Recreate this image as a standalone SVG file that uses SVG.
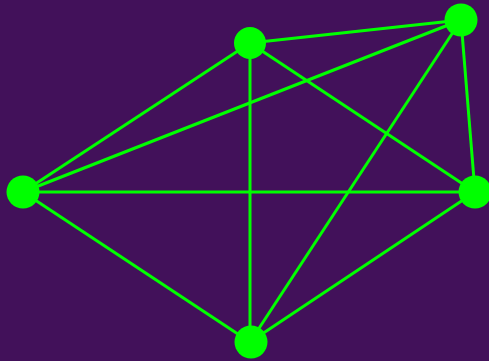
<svg xmlns="http://www.w3.org/2000/svg" width="489" height="361" viewBox="0 0 489 361">
<style>
.e{stroke:#00ff00;stroke-width:3;fill:none}
.n{fill:#00ff00}
</style>
<rect width="489" height="361" fill="#42115a"/>
<g id="edges">
<line class="e" x1="250" y1="43" x2="461" y2="20"/>
<line class="e" x1="250" y1="43" x2="23" y2="192"/>
<line class="e" x1="250" y1="43" x2="250" y2="342"/>
<line class="e" x1="250" y1="43" x2="475" y2="192"/>
<line class="e" x1="461" y1="20" x2="23" y2="192"/>
<line class="e" x1="461" y1="20" x2="475" y2="192"/>
<line class="e" x1="461" y1="20" x2="250" y2="342"/>
<line class="e" x1="23" y1="192" x2="475" y2="192"/>
<line class="e" x1="23" y1="192" x2="250" y2="342"/>
<line class="e" x1="475" y1="192" x2="250" y2="342"/>
</g>
<g id="n1"><circle class="n" cx="250" cy="43" r="16"/></g>
<g id="n2"><circle class="n" cx="461" cy="20" r="16.5"/></g>
<g id="n3"><circle class="n" cx="23" cy="192" r="16.5"/></g>
<g id="n4"><circle class="n" cx="475" cy="192" r="16.5"/></g>
<g id="n5"><circle class="n" cx="251" cy="342" r="16.5"/></g>
</svg>
